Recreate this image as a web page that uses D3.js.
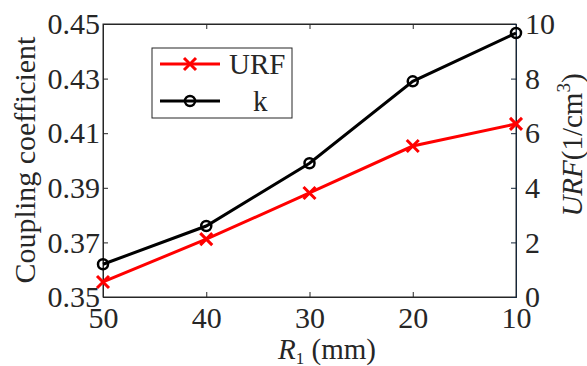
<!DOCTYPE html>
<html>
<head>
<meta charset="utf-8">
<script src="https://cdn.jsdelivr.net/npm/d3@7"></script>
<style>
  body { margin: 0; background: #fff; }
  svg text { font-family: "Liberation Serif", "Times New Roman", serif; fill: #262626; }
</style>
</head>
<body>
<svg id="chart" width="587" height="366"></svg>
<script>
const radius = [50, 40, 30, 20, 10];
const kValues = [0.362, 0.376, 0.399, 0.429, 0.4467];
const urfValues = [0.55, 2.12, 3.81, 5.53, 6.34];
const leftTicks = [0.35, 0.37, 0.39, 0.41, 0.43, 0.45];
const rightTicks = [0, 2, 4, 6, 8, 10];

const margin = {left: 103, right: 71, top: 24, bottom: 69};
const width = 587, height = 366;
const axisColor = '#262626';
const rightColor = '#15263a';

const svg = d3.select('#chart');

const x = d3.scaleLinear().domain([50, 10]).range([margin.left, width - margin.right]);
const yL = d3.scaleLinear().domain([0.35, 0.45]).range([height - margin.bottom, margin.top]);
const yR = d3.scaleLinear().domain([0, 10]).range([height - margin.bottom, margin.top]);

const x0 = margin.left, x1 = width - margin.right;
const y0 = height - margin.bottom, y1 = margin.top;

// box
svg.append('rect')
    .attr('x', x0).attr('y', y1)
    .attr('width', x1 - x0).attr('height', y0 - y1)
    .attr('fill', 'none').attr('stroke', axisColor).attr('stroke-width', 1);

// bottom axis
const bottomAxis = svg.append('g')
    .attr('transform', `translate(0,${y0})`)
    .call(d3.axisBottom(x).tickValues(radius).tickSize(-5).tickFormat(d3.format('d')));
bottomAxis.select('.domain').attr('stroke', axisColor);
bottomAxis.selectAll('.tick line').attr('stroke', axisColor);
bottomAxis.selectAll('text').attr('font-size', 30).attr('y', 31).attr('dy', 0);

// top ticks
const topAxis = svg.append('g')
    .attr('transform', `translate(0,${y1})`)
    .call(d3.axisTop(x).tickValues(radius).tickSize(-5).tickFormat(''));
topAxis.select('.domain').attr('stroke', axisColor);
topAxis.selectAll('.tick line').attr('stroke', axisColor);

// left axis
const leftAxis = svg.append('g')
    .attr('transform', `translate(${x0},0)`)
    .call(d3.axisLeft(yL).tickValues(leftTicks).tickSize(-5).tickPadding(3).tickFormat(d3.format('.2f')));
leftAxis.select('.domain').attr('stroke', axisColor);
leftAxis.selectAll('.tick line').attr('stroke', axisColor);
leftAxis.selectAll('text').attr('font-size', 30);

// right axis
const rightAxis = svg.append('g')
    .attr('transform', `translate(${x1},0)`)
    .call(d3.axisRight(yR).tickValues(rightTicks).tickSize(-5).tickPadding(9).tickFormat(d3.format('d')));
rightAxis.select('.domain').attr('stroke', rightColor);
rightAxis.selectAll('.tick line').attr('stroke', rightColor);
rightAxis.selectAll('text').attr('font-size', 30);

// axis titles
svg.append('text')
    .attr('transform', `translate(35,160) rotate(-90)`)
    .attr('text-anchor', 'middle')
    .attr('font-size', 30)
    .text('Coupling coefficient');

const rt = svg.append('text')
    .attr('transform', `translate(582,145) rotate(-90)`)
    .attr('text-anchor', 'middle')
    .attr('font-size', 29);
rt.append('tspan').attr('font-style', 'italic').text('URF');
rt.append('tspan').text('(1/cm');
rt.append('tspan').attr('font-size', 19).attr('dy', -12).text('3');
rt.append('tspan').attr('dy', 12).text(')');

const xt = svg.append('text')
    .attr('x', 327).attr('y', 359)
    .attr('text-anchor', 'middle')
    .attr('font-size', 29);
xt.append('tspan').attr('font-style', 'italic').text('R');
xt.append('tspan').attr('font-size', 17).attr('dy', 5).text('1');
xt.append('tspan').attr('dy', -5).text(' (mm)');

// lines
const kLine = d3.line().x((d, i) => x(radius[i])).y(d => yL(d));
const urfLine = d3.line().x((d, i) => x(radius[i])).y(d => yR(d));

svg.append('path').datum(urfValues)
    .attr('d', urfLine).attr('fill', 'none')
    .attr('stroke', '#ff0000').attr('stroke-width', 3);

svg.append('g').selectAll('path')
    .data(urfValues).enter().append('path')
    .attr('transform', (d, i) => `translate(${x(radius[i])},${yR(d)})`)
    .attr('d', 'M-6,-6L6,6M-6,6L6,-6')
    .attr('stroke', '#ff0000').attr('stroke-width', 3);

svg.append('path').datum(kValues)
    .attr('d', kLine).attr('fill', 'none')
    .attr('stroke', '#000').attr('stroke-width', 3);

svg.append('g').selectAll('circle')
    .data(kValues).enter().append('circle')
    .attr('cx', (d, i) => x(radius[i]))
    .attr('cy', d => yL(d))
    .attr('r', 5)
    .attr('fill', 'none').attr('stroke', '#000').attr('stroke-width', 2.5);

// legend
const lg = svg.append('g').attr('transform', 'translate(152,48)');
lg.append('rect')
    .attr('width', 140).attr('height', 70)
    .attr('fill', '#fff').attr('stroke', axisColor).attr('stroke-width', 1);

lg.append('line').attr('x1', 8).attr('x2', 68).attr('y1', 16).attr('y2', 16)
    .attr('stroke', '#ff0000').attr('stroke-width', 3);
lg.append('path').attr('transform', 'translate(38,16)')
    .attr('d', 'M-6,-6L6,6M-6,6L6,-6')
    .attr('stroke', '#ff0000').attr('stroke-width', 3);
lg.append('text').attr('x', 77).attr('y', 26).attr('font-size', 29).text('URF');

lg.append('line').attr('x1', 8).attr('x2', 68).attr('y1', 53).attr('y2', 53)
    .attr('stroke', '#000').attr('stroke-width', 3);
lg.append('circle').attr('cx', 38).attr('cy', 53).attr('r', 5)
    .attr('fill', 'none').attr('stroke', '#000').attr('stroke-width', 2.5);
lg.append('text').attr('x', 101).attr('y', 63).attr('font-size', 29).text('k');
</script>
</body>
</html>
